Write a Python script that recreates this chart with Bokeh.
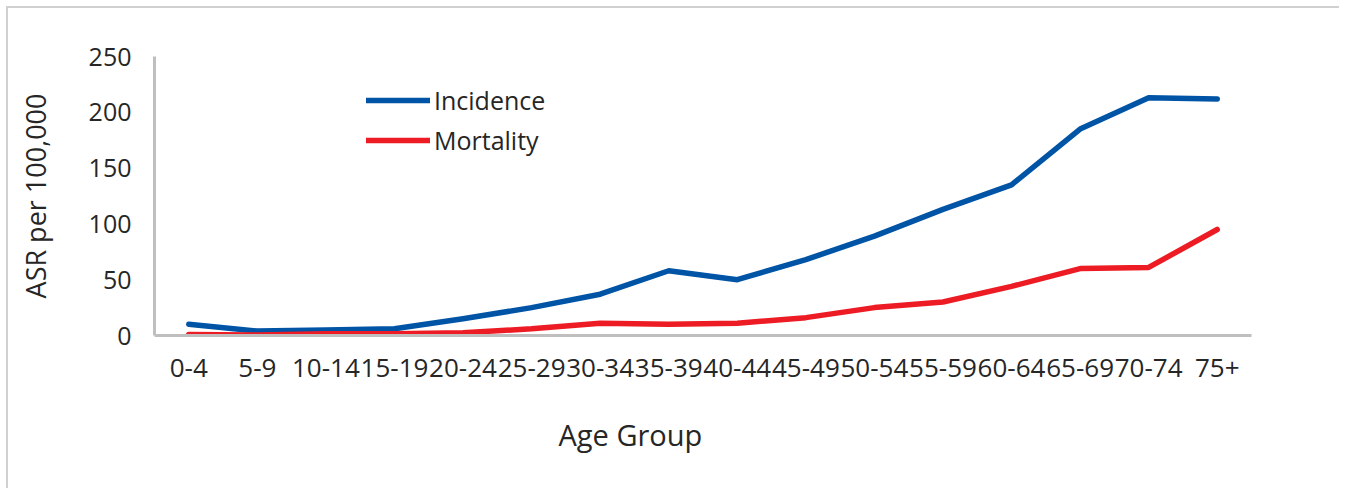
from bokeh.plotting import figure
from bokeh.models import ColumnDataSource, Legend, LegendItem, Title, FactorRange, Range1d, FixedTicker
from bokeh.embed import file_html
from bokeh.resources import INLINE

age_groups = ["0-4", "5-9", "10-14", "15-19", "20-24", "25-29", "30-34", "35-39",
              "40-44", "45-49", "50-54", "55-59", "60-64", "65-69", "70-74", "75+"]
incidence = [10, 4, 5, 6, 15, 25, 37, 58, 50, 68, 89, 113, 135, 185, 213, 212]
mortality = [1, 0.5, 1.5, 1.5, 2.5, 6, 11, 10, 11, 16, 25, 30, 44, 60, 61, 95]
y_ticks = [0, 50, 100, 150, 200, 250]

FONT = "Open Sans"
TXT = "#262626"
GRID = "#d0d0d0"

p = figure(width=1339, height=488, x_range=FactorRange(*age_groups, range_padding=0),
           y_range=Range1d(0, 250), output_backend="svg", toolbar_location=None,
           min_border_left=154, min_border_top=56, min_border_right=88, min_border_bottom=153)
p.border_fill_color = None
p.background_fill_color = None
p.styles = {"background": (f"linear-gradient({GRID},{GRID}) 6px 6px / 100% 2px no-repeat, "
                           f"linear-gradient({GRID},{GRID}) 6px 6px / 2px 100% no-repeat, white")}

src = ColumnDataSource(dict(x=age_groups, inc=incidence, mort=mortality))
r1 = p.line("x", "inc", source=src, line_color="#0054A6", line_width=5.5,
            line_cap="round", line_join="round")
r2 = p.line("x", "mort", source=src, line_color="#ED1C24", line_width=5.5,
            line_cap="round", line_join="round")

p.grid.visible = False
p.outline_line_color = None

p.yaxis.ticker = FixedTicker(ticks=y_ticks)
for ax in (p.xaxis[0], p.yaxis[0]):
    ax.axis_line_color = "#bfbfbf"
    ax.axis_line_width = 3
    ax.major_tick_line_color = None
    ax.minor_tick_line_color = None
    ax.major_tick_out = 0
    ax.major_tick_in = 0
    ax.major_label_text_font = FONT
    ax.major_label_text_font_size = "25px"
    ax.major_label_text_color = TXT
p.xaxis.major_label_text_font_size = "26px"
p.yaxis.major_label_standoff = 23
p.xaxis.major_label_standoff = 23
p.yaxis.axis_label = "ASR per 100,000"
p.yaxis.axis_label_text_font = FONT
p.yaxis.axis_label_text_font_size = "27px"
p.yaxis.axis_label_text_font_style = "normal"
p.yaxis.axis_label_text_color = TXT
p.yaxis.axis_label_standoff = 32

p.add_layout(Title(text="Age Group", align="left", offset=404, standoff=66,
                   text_font=FONT, text_font_size="29px", text_font_style="normal",
                   text_color=TXT), "below")

legend = Legend(items=[LegendItem(label="Incidence", renderers=[r1]),
                       LegendItem(label="Mortality", renderers=[r2])],
                location=(212, 178), orientation="vertical",
                glyph_width=64, glyph_height=20, label_standoff=4, spacing=6,
                padding=0, margin=0, border_line_alpha=0, background_fill_alpha=0,
                label_text_font=FONT, label_text_font_size="25px", label_text_color=TXT)
p.add_layout(legend)

open("out.html", "w").write(file_html(p, INLINE))
